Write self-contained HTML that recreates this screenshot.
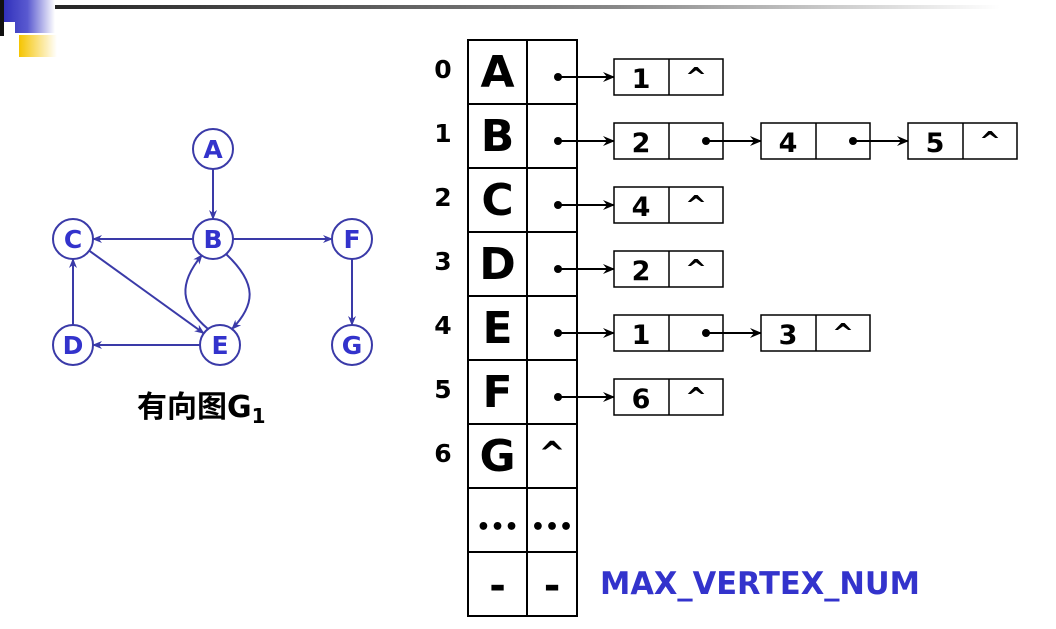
<!DOCTYPE html>
<html><head><meta charset="utf-8"><style>
body{margin:0;background:#fff;width:1056px;height:629px;overflow:hidden}
svg{display:block}
text{font-family:"DejaVu Sans","Noto Sans CJK SC",sans-serif;font-weight:bold}
</style></head><body>
<svg id="s" width="1056" height="629" viewBox="0 0 1056 629">
<defs>
<linearGradient id="gb" x1="0" x2="1"><stop offset="0" stop-color="#2a2ab8"/><stop offset="0.5" stop-color="#5a5ad0"/><stop offset="1" stop-color="#fff"/></linearGradient>
<linearGradient id="gy" x1="0" x2="1"><stop offset="0" stop-color="#f5c400"/><stop offset="1" stop-color="#fff"/></linearGradient>
<linearGradient id="gg" x1="0" x2="1"><stop offset="0" stop-color="#222"/><stop offset="0.6" stop-color="#888"/><stop offset="1" stop-color="#fff"/></linearGradient>
<marker id="ab" markerWidth="10" markerHeight="8" refX="9" refY="4" orient="auto" markerUnits="userSpaceOnUse"><path d="M0,0 L10,4 L0,8 L3,4z" fill="#3a3aa8"/></marker>
<marker id="ak" markerWidth="12" markerHeight="10" refX="11" refY="5" orient="auto" markerUnits="userSpaceOnUse"><path d="M0,0 L12,5 L0,10 L4,5z" fill="#000"/></marker>
</defs>
<g>
<rect x="40" y="5" width="960" height="4" fill="url(#gg)"/>
<rect x="0" y="0" width="55" height="33" fill="url(#gb)"/>
<rect x="4" y="22" width="11" height="12" fill="#fff"/>
<rect x="0" y="0" width="4" height="36" fill="#111"/>
<rect x="19" y="35" width="38" height="22" fill="url(#gy)"/>
</g>
<g id="graph"></g>
<text x="137" y="417" font-size="30" fill="#000">有向图G<tspan font-size="20" dy="6">1</tspan></text>
<g id="table"></g>
<text x="600" y="594" font-size="31" fill="#3333cc" textLength="320" lengthAdjust="spacingAndGlyphs">MAX_VERTEX_NUM</text>
</svg>
<script>
const NS="http://www.w3.org/2000/svg";
function mk(p,t,a){const e=document.createElementNS(NS,t);for(const k in a)e.setAttribute(k,a[k]);p.appendChild(e);return e;}
const nodeNames=["A","B","C","D","E","F","G"];
const nodeX=[213,213,73,73,220,352,352];
const nodeY=[149,239,239,345,345,239,345];
const edges=[[0,1,0],[1,2,0],[1,5,0],[1,4,1],[4,1,-1],[2,4,0],[3,2,0],[4,3,0],[5,6,0]];
const g=document.getElementById('graph');const R=20,C="#3a3aa8";
edges.forEach(([a,b,c])=>{
 let x1=nodeX[a],y1=nodeY[a],x2=nodeX[b],y2=nodeY[b];
 let dx=x2-x1,dy=y2-y1,L=Math.hypot(dx,dy);let ux=dx/L,uy=dy/L;
 let e;
 if(c===1){
  e=mk(g,'path',{d:`M${x1+13},${y1+15} C${x1+45},${y1+45} ${x2+35},${y2-40} ${x2+12},${y2-16}`,fill:'none',stroke:C,'stroke-width':2,'marker-end':'url(#ab)'});
 } else if(c===-1){
  e=mk(g,'path',{d:`M${x1-12},${y1-16} C${x1-40},${y1-40} ${x2-35},${y2+45} ${x2-11},${y2+16}`,fill:'none',stroke:C,'stroke-width':2,'marker-end':'url(#ab)'});
 } else e=mk(g,'line',{x1:x1+ux*R,y1:y1+uy*R,x2:x2-ux*R,y2:y2-uy*R,stroke:C,'stroke-width':2,'marker-end':'url(#ab)'});
 
 
});
nodeNames.forEach((n,i)=>{
 const c=mk(g,'circle',{cx:nodeX[i],cy:nodeY[i],r:R,fill:'#fff',stroke:C,'stroke-width':2});
 
 
 const t=mk(g,'text',{x:nodeX[i],y:nodeY[i]+9,'text-anchor':'middle','font-size':25,fill:'#3333cc'});t.textContent=n;
 
 
});
const rowLabels=["A","B","C","D","E","F","G","…","-"];
const adj=[[1],[2,4,5],[4],[2],[1,3],[6],[]];
const T=document.getElementById('table');const X0=468,XM=527,X1=577,Y0=40,H=64;
mk(T,'rect',{x:X0,y:Y0,width:X1-X0,height:H*9,fill:'none',stroke:'#000','stroke-width':2});
mk(T,'line',{x1:XM,y1:Y0,x2:XM,y2:Y0+H*9,stroke:'#000','stroke-width':2});
rowLabels.forEach((l,i)=>{
 const y=Y0+i*H;
 if(i>0)mk(T,'line',{x1:X0,y1:y,x2:X1,y2:y,stroke:'#000','stroke-width':2});
 if(i<7){const t=mk(T,'text',{x:443,y:y+38,'text-anchor':'middle','font-size':25,fill:'#000'});t.textContent=i;
  
  }
 const t=mk(T,'text',{x:(X0+XM)/2,y:y+(i===7?46:47),'text-anchor':'middle','font-size':i===7?22:(i===8?40:44),fill:'#000'});
 t.textContent=i===7?'•••':(i===8?'-':l);
 
 
 if(i>=6){const t2=mk(T,'text',{x:(XM+X1)/2,y:y+(i===7?46:(i===6?40:47)),'text-anchor':'middle','font-size':i===7?22:(i===6?32:40),fill:'#000'});
  t2.textContent=i===6?'^':(i===7?'•••':'-');
  
  }
});
adj.forEach((list,i)=>{
 if(!list.length)return;
 const by=Y0+i*H+19,cy=by+18;
 mk(T,'circle',{cx:558,cy:cy,r:4,fill:'#000'});
 mk(T,'line',{x1:558,y1:cy,x2:614,y2:cy,stroke:'#000','stroke-width':2,'marker-end':'url(#ak)'});
 list.forEach((v,j)=>{
  const bx=614+j*147;
  const r=mk(T,'rect',{x:bx,y:by,width:109,height:36,fill:'#fff',stroke:'#000','stroke-width':1.5});
  
  
  mk(T,'line',{x1:bx+55,y1:by,x2:bx+55,y2:by+36,stroke:'#000','stroke-width':1.5});
  const t=mk(T,'text',{x:bx+27,y:by+29,'text-anchor':'middle','font-size':27,fill:'#000'});t.textContent=v;
  if(j===list.length-1){const c=mk(T,'text',{x:bx+82,y:by+27,'text-anchor':'middle','font-size':26,fill:'#000'});c.textContent='^';}
  else{mk(T,'circle',{cx:bx+92,cy:cy,r:4,fill:'#000'});
   mk(T,'line',{x1:bx+92,y1:cy,x2:bx+147,y2:cy,stroke:'#000','stroke-width':2,'marker-end':'url(#ak)'});}
 });
});
</script>
</body></html>
